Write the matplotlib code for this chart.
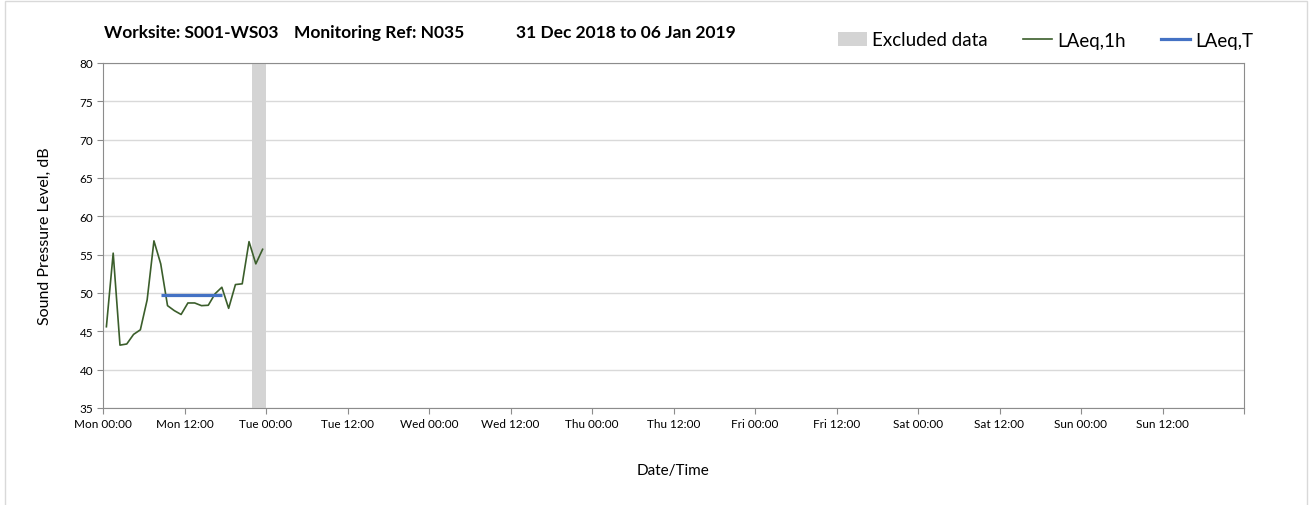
import matplotlib
matplotlib.use('Agg')
import matplotlib.pyplot as plt
import matplotlib.dates as mdates
from matplotlib.patches import Patch, Rectangle
from matplotlib.lines import Line2D
import pandas as pd

plt.rcParams['font.family'] = ['Lato', 'DejaVu Sans']

# Données horaires (LAeq,1h), lundi 31/12/2018
hours = [0.5, 1.5, 2.5, 3.5, 4.5, 5.5, 6.5, 7.5, 8.5, 9.5, 10.5, 11.5,
         12.5, 13.5, 14.5, 15.5, 16.5, 17.5, 18.5, 19.5, 20.5, 21.5, 22.5, 23.5]
laeq_1h = [45.6, 55.2, 43.2, 43.35, 44.6, 45.2, 49.1, 56.8, 53.8, 48.35, 47.7, 47.2,
           48.7, 48.7, 48.35, 48.4, 49.9, 50.75, 48.0, 51.1, 51.2, 56.7, 53.8, 55.7]

# LAeq,T (période de jour)
laeq_t_hours = [8.5, 17.5]
laeq_t = [49.7, 49.7]

# Période exclue (heures)
excluded = [22, 24]

start = pd.Timestamp('2018-12-31 00:00')
t = [start + pd.Timedelta(hours=h) for h in hours]
t_T = [start + pd.Timedelta(hours=h) for h in laeq_t_hours]
t_excl = [start + pd.Timedelta(hours=h) for h in excluded]
end = start + pd.Timedelta(days=7)

fig = plt.figure(figsize=(13.09, 5.06), dpi=100)
ax = fig.add_axes([103 / 1309, 1 - 409 / 506, 1141 / 1309, 345 / 506])

grid_col = '#d9d9d9'
ax.axvspan(t_excl[0], t_excl[1], color='#d4d4d4', lw=0, zorder=1)
ax.plot(t, laeq_1h, color='#3b5e2b', lw=1.2, zorder=3)
ax.plot(t_T, laeq_t, color='#4472c4', lw=2.3, solid_capstyle='butt', zorder=4)

ax.set_xlim(start, end)
ax.set_ylim(35, 80)
ax.set_yticks(range(35, 81, 5))

ticks = pd.date_range(start, end, freq='12h')
ax.set_xticks(ticks)
ax.set_xticklabels([d.strftime('%a %H:%M') for d in ticks[:-1]] + [''])
ax.xaxis.set_minor_locator(mdates.DayLocator())
ax.grid(True, axis='y', color=grid_col, lw=1.0, zorder=0)
ax.grid(True, axis='x', which='minor', color=grid_col, lw=1.0, zorder=0)
ax.tick_params(axis='x', which='minor', length=0)
ax.tick_params(which='major', direction='out', length=4, color='#8c8c8c', labelsize=8.5, pad=3)
ax.set_axisbelow(True)
for s in ax.spines.values():
    s.set_color('#8c8c8c')

ax.set_ylabel('Sound Pressure Level, dB', fontsize=11.5, labelpad=20)
ax.set_xlabel('Date/Time', fontsize=11, labelpad=25)

# Titre en trois morceaux
ty = 1 - 33 / 506
fig.text(104 / 1309, ty, 'Worksite: S001-WS03', fontsize=12.5, fontweight='bold', va='center')
fig.text(294 / 1309, ty, 'Monitoring Ref: N035', fontsize=12.5, fontweight='bold', va='center')
fig.text(516 / 1309, ty, '31 Dec 2018 to 06 Jan 2019', fontsize=12.5, fontweight='bold', va='center')

handles = [Patch(facecolor='#d4d4d4', edgecolor='none', label='Excluded data'),
           Line2D([], [], color='#3b5e2b', lw=1.2, label='LAeq,1h'),
           Line2D([], [], color='#4472c4', lw=2.3, label='LAeq,T')]
fig.legend(handles=handles, ncol=3, frameon=False, loc='center right',
           bbox_to_anchor=(1253 / 1309, 1 - 41 / 506), fontsize=13.5,
           handlelength=1.55, handleheight=0.8, handletextpad=0.25, columnspacing=1.9,
           borderaxespad=0, borderpad=0)

# Bordure de la figure (pas de bord inférieur visible)
fig.patches.append(Rectangle((5 / 1309, -0.02), 1302 / 1309, 1.02 - 2 / 506,
                             transform=fig.transFigure, fill=False,
                             edgecolor='#d9d9d9', lw=1))

plt.savefig('out.png', dpi=100)
plt.close()
